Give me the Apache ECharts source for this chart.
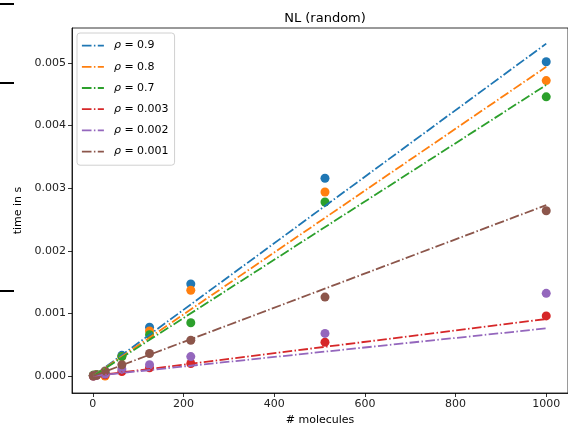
<!DOCTYPE html>
<html>
<head>
<meta charset="utf-8">
<script src="https://cdn.jsdelivr.net/npm/echarts@6/dist/echarts.min.js"></script>
<style>html,body{margin:0;padding:0;background:#fff}#c{width:568px;height:427px}</style>
</head>
<body>
<div id="c"></div>
<script>
var molecules = [1, 8, 27, 64, 125, 216, 512, 1000];
var rhoLabels = ['ρ = 0.9', 'ρ = 0.8', 'ρ = 0.7', 'ρ = 0.003', 'ρ = 0.002', 'ρ = 0.001'];
var colors = ['#1f77b4', '#ff7f0e', '#2ca02c', '#d62728', '#9467bd', '#8c564b'];
var t09 = [0.00001, 0.00002, 0.00005, 0.00033, 0.00078, 0.00147, 0.00316, 0.00502];
var t08 = [0.00001, 0.00002, 0.00000, 0.00031, 0.00072, 0.00137, 0.00294, 0.00472];
var t07 = [0.00001, 0.00002, 0.00004, 0.00031, 0.00066, 0.00085, 0.00278, 0.00446];
var t0003 = [0.00000, 0.00001, 0.00002, 0.00007, 0.00013, 0.00020, 0.00054, 0.00096];
var t0002 = [0.00000, 0.00001, 0.00003, 0.00011, 0.00018, 0.00031, 0.00068, 0.00132];
var t0001 = [0.00000, 0.00001, 0.00008, 0.00018, 0.00036, 0.00057, 0.00126, 0.00264];
var fitX = [1, 1000];
var fit09 = [0.00000, 0.00531];
var fit08 = [0.00000, 0.00494];
var fit07 = [0.00000, 0.00465];
var fit0003 = [0.00000, 0.00091];
var fit0002 = [0.00000, 0.00076];
var fit0001 = [0.00000, 0.00273];
var xTicks = [0, 200, 400, 600, 800, 1000];
var yTicks = [0, 0.001, 0.002, 0.003, 0.004, 0.005];

var pts = [t09, t08, t07, t0003, t0002, t0001];
var fits = [fit09, fit08, fit07, fit0003, fit0002, fit0001];
var font = 'DejaVu Sans';
var dashDot = [9.6, 2.4, 1.5, 2.4];
var series = [];
pts.forEach(function (arr, i) {
  series.push({
    type: 'scatter', name: 'pts' + i, symbolSize: 9, z: 2,
    itemStyle: { color: colors[i], opacity: 1 },
    data: molecules.map(function (m, j) { return [m, arr[j]]; })
  });
});
fits.forEach(function (arr, i) {
  series.push({
    type: 'line', name: rhoLabels[i], showSymbol: false, symbol: 'none', z: 3,
    color: colors[i],
    lineStyle: { color: colors[i], width: 1.8, type: dashDot },
    data: fitX.map(function (m, j) { return [m, arr[j]]; })
  });
});

var chart = echarts.init(document.getElementById('c'), null, { renderer: 'canvas' });
chart.setOption({
  animation: false,
  backgroundColor: '#fff',
  textStyle: { fontFamily: font },
  title: {
    text: 'NL (random)', left: 320, top: 7, textAlign: 'center',
    textStyle: { fontFamily: font, fontSize: 13, fontWeight: 'normal', color: '#000' }
  },
  grid: { left: 72, right: 0, top: 28, bottom: 34, show: true, borderColor: '#000', borderWidth: 0.8,
    containLabel: false, outerBoundsMode: 'none' },
  legend: {
    data: rhoLabels, orient: 'vertical', left: 77, top: 33,
    itemWidth: 22, itemHeight: 14, itemGap: 10,
    padding: [7, 6, 8, 4],
    borderColor: '#d0d0d0', borderWidth: 1, borderRadius: 3,
    backgroundColor: 'rgba(255,255,255,0.8)',
    itemStyle: { opacity: 0 },
    lineStyle: { type: dashDot, width: 1.8 },
    formatter: function (n) { return '{i|ρ}' + n.slice(1); },
    textStyle: {
      fontFamily: font, fontSize: 11, color: '#000', padding: [0, 0, 0, 5],
      rich: { i: { fontFamily: font, fontSize: 11, fontStyle: 'italic', color: '#000' } }
    }
  },
  xAxis: {
    type: 'value', min: -46, max: 1048,
    name: '# molecules', nameLocation: 'middle', nameGap: 22,
    nameTextStyle: { fontFamily: font, fontSize: 11, color: '#000' },
    splitLine: { show: false },
    axisLine: { show: true, onZero: false, lineStyle: { color: '#000', width: 0.8 } },
    axisTick: { show: true, length: 4, customValues: xTicks, lineStyle: { color: '#000', width: 0.8 } },
    axisLabel: { customValues: xTicks, fontFamily: font, fontSize: 11, color: '#222', margin: 6,
      formatter: function (v) { return String(v); } }
  },
  yAxis: {
    type: 'value', min: -0.000272, max: 0.00556,
    name: 'time in s', nameLocation: 'middle', nameGap: 47,
    nameTextStyle: { fontFamily: font, fontSize: 11, color: '#000' },
    splitLine: { show: false },
    axisLine: { show: true, onZero: false, lineStyle: { color: '#000', width: 0.8 } },
    axisTick: { show: true, length: 4, customValues: yTicks, lineStyle: { color: '#000', width: 0.8 } },
    axisLabel: { customValues: yTicks, fontFamily: font, fontSize: 11, color: '#222', margin: 6,
      formatter: function (v) { return v.toFixed(3); } }
  },
  graphic: [
    { type: 'rect', shape: { x: 0, y: 3, width: 14, height: 2 }, style: { fill: '#000' } },
    { type: 'rect', shape: { x: 0, y: 82, width: 14, height: 2 }, style: { fill: '#000' } },
    { type: 'rect', shape: { x: 0, y: 290, width: 14, height: 2 }, style: { fill: '#000' } }
  ],
  series: series
});
</script>
</body>
</html>
